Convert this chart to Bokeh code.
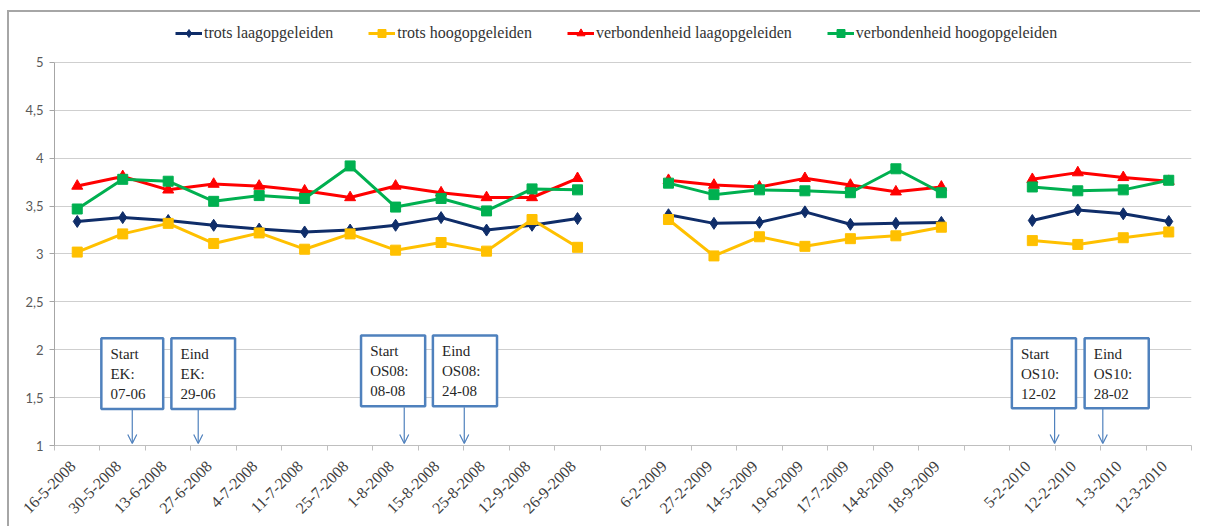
import math
from bokeh.plotting import figure
from bokeh.models import FixedTicker, Legend, LegendItem, Arrow, OpenHead, Range1d
from bokeh.core.properties import value
from bokeh.embed import file_html
from bokeh.resources import INLINE

nan = float("nan")

dates = ["16-5-2008", "30-5-2008", "13-6-2008", "27-6-2008", "4-7-2008", "11-7-2008",
         "25-7-2008", "1-8-2008", "15-8-2008", "25-8-2008", "12-9-2008", "26-9-2008", "",
         "6-2-2009", "27-2-2009", "14-5-2009", "19-6-2009", "17-7-2009", "14-8-2009", "18-9-2009", "",
         "5-2-2010", "12-2-2010", "1-3-2010", "12-3-2010"]

trots_laag = [3.34, 3.38, 3.35, 3.30, 3.26, 3.23, 3.25, 3.30, 3.38, 3.25, 3.30, 3.37, nan,
              3.41, 3.32, 3.33, 3.44, 3.31, 3.32, 3.33, nan,
              3.35, 3.46, 3.42, 3.34]
trots_hoog = [3.02, 3.21, 3.32, 3.11, 3.22, 3.05, 3.21, 3.04, 3.12, 3.03, 3.36, 3.07, nan,
              3.36, 2.98, 3.18, 3.08, 3.16, 3.19, 3.28, nan,
              3.14, 3.10, 3.17, 3.23]
verb_laag = [3.71, 3.81, 3.67, 3.73, 3.71, 3.66, 3.59, 3.71, 3.64, 3.59, 3.59, 3.79, nan,
             3.77, 3.72, 3.70, 3.79, 3.72, 3.65, 3.70, nan,
             3.78, 3.85, 3.80, 3.76]
verb_hoog = [3.47, 3.78, 3.76, 3.55, 3.61, 3.58, 3.92, 3.49, 3.58, 3.45, 3.68, 3.67, nan,
             3.74, 3.62, 3.67, 3.66, 3.64, 3.89, 3.64, nan,
             3.70, 3.66, 3.67, 3.77]

series_names = ["trots laagopgeleiden", "trots hoogopgeleiden",
                "verbondenheid laagopgeleiden", "verbondenheid hoogopgeleiden"]

y_ticks = [1, 1.5, 2, 2.5, 3, 3.5, 4, 4.5, 5]

# annotation boxes (text and placement in category / value units)
ann_text = ["Start\nEK:\n07-06", "Eind\nEK:\n29-06", "Start\nOS08:\n08-08",
            "Eind\nOS08:\n24-08", "Start\nOS10:\n12-02", "Eind\nOS10:\n28-02"]
ann_left = [0.53, 2.07, 6.24, 7.82, 20.55, 22.15]
ann_right = [1.89, 3.47, 7.65, 9.23, 21.96, 23.56]
ann_top = [2.12, 2.12, 2.15, 2.15, 2.12, 2.12]
ann_bottom = [1.38, 1.38, 1.41, 1.41, 1.39, 1.39]
arrow_x = [1.21, 2.66, 7.19, 8.51, 21.49, 22.55]
arrow_end = 1.02

SERIF = "'Liberation Serif', 'Times New Roman', serif"
BOX_BLUE = "#4F81BD"
LABEL_SHIFT = -0.1   # rotated labels sit slightly left of category centre

n = len(dates)
xs = list(range(n))
label_pos = [i + LABEL_SHIFT for i in xs]

# frame extends above 5 so the legend can sit inside it (axis is bounded to 1..5)
p = figure(width=1193, height=516, output_backend="svg", toolbar_location=None,
           x_range=Range1d(-0.5, n - 0.5), y_range=Range1d(1, 5.5013),
           min_border_left=45, min_border_right=11, min_border_top=2, min_border_bottom=83)
p.styles = {"border-top": "2px solid #a6a6a6", "border-left": "2px solid #a6a6a6",
            "margin-top": "10px", "margin-left": "7px"}
p.outline_line_color = None
p.background_fill_color = "white"
p.border_fill_color = "white"

# axes
p.xaxis.ticker = FixedTicker(ticks=label_pos, minor_ticks=[i - 0.5 for i in range(n + 1)])
p.xaxis.major_label_overrides = {pos: d for pos, d in zip(label_pos, dates)}
p.xaxis.major_label_orientation = math.pi / 4
p.xaxis.major_label_text_font = SERIF
p.xaxis.major_label_text_font_size = "16px"
p.xaxis.major_label_text_color = "#404040"
p.xaxis.major_tick_line_color = None
p.xaxis.minor_tick_out = 5
p.xaxis.minor_tick_in = 0
p.xaxis.minor_tick_line_color = "#bfbfbf"
p.xaxis.axis_line_color = "#bfbfbf"
p.xaxis.major_label_standoff = 12

p.yaxis.ticker = FixedTicker(ticks=y_ticks)
p.yaxis.bounds = (1, 5)
p.yaxis.major_label_overrides = {t: f"{t:g}".replace(".", ",") for t in y_ticks}
p.yaxis.major_label_text_font = "Lato"
p.yaxis.major_label_text_font_size = "13px"
p.yaxis.major_label_text_color = "#595959"
p.yaxis.major_tick_out = 5
p.yaxis.major_tick_in = 0
p.yaxis.minor_tick_line_color = None
p.yaxis.major_tick_line_color = "#a6a6a6"
p.yaxis.axis_line_color = "#a6a6a6"
p.yaxis.major_label_standoff = 6

p.xgrid.grid_line_color = None
p.ygrid.grid_line_color = "#cfcfcf"
p.ygrid.grid_line_width = 1

styles = [
    (trots_laag, "#0F2D69", "diamond", 12),
    (trots_hoog, "#FFC000", "square", 10),
    (verb_laag, "#FF0000", "triangle", 11),
    (verb_hoog, "#00B050", "square", 10),
]

items = []
for name, (vals, col, marker, size) in zip(series_names, styles):
    r1 = p.line(xs, vals, line_color=col, line_width=3, line_join="round")
    r2 = p.scatter(xs, vals, marker=marker, size=size, fill_color=col, line_color=col)
    items.append(LegendItem(label=name, renderers=[r1, r2]))

# annotation boxes
p.quad(left=ann_left, right=ann_right, top=ann_top, bottom=ann_bottom,
       fill_color="white", line_color=BOX_BLUE, line_width=2.5)
p.text(x=[l + 0.2 for l in ann_left], y=[t - 0.08 for t in ann_top], text=ann_text,
       text_font=value(SERIF), text_font_size="15px", text_color="#262626",
       text_baseline="top", text_align="left", text_line_height=1.25)
for ax, ab in zip(arrow_x, ann_bottom):
    p.add_layout(Arrow(end=OpenHead(size=9, line_color=BOX_BLUE, line_width=1.2),
                       x_start=ax, y_start=ab - 0.01, x_end=ax, y_end=arrow_end,
                       line_color=BOX_BLUE, line_width=1.2))

legend = Legend(items=items, orientation="horizontal", location=(121, 402),
                label_text_font=SERIF, label_text_font_size="16px", label_text_color="#333333",
                glyph_width=27, glyph_height=20, label_height=20, label_standoff=2, spacing=35,
                padding=0, margin=0, border_line_color=None, background_fill_alpha=0)
p.add_layout(legend)

open("out.html", "w").write(file_html(p, INLINE))
